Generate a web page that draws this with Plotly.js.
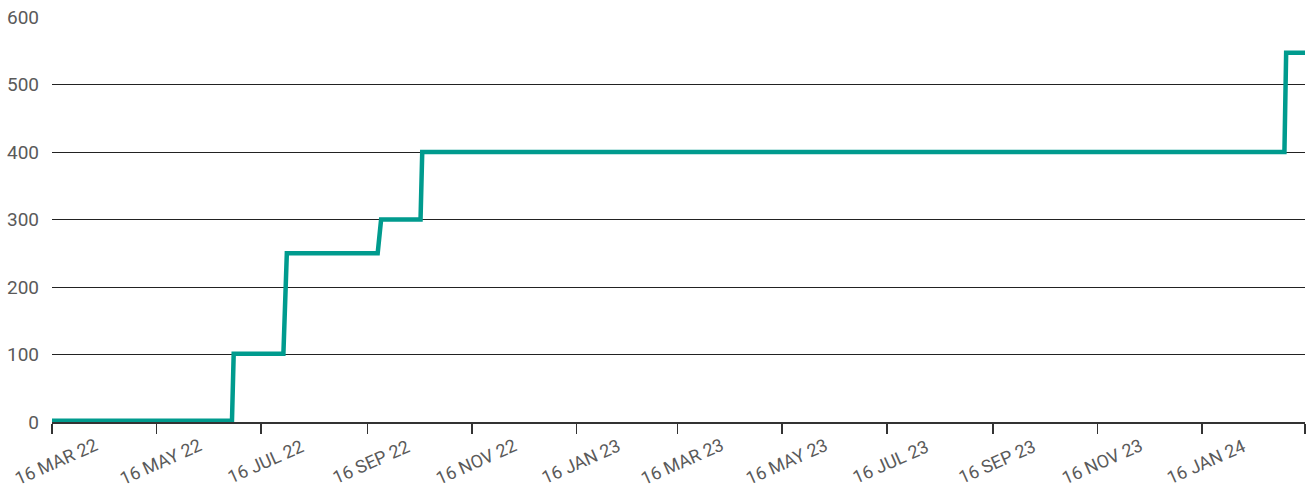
<!DOCTYPE html>
<html>
<head>
<meta charset="utf-8">
<script src="https://cdn.plot.ly/plotly-3.0.1.min.js"></script>
<style>html,body{margin:0;padding:0;background:#fff;}#chart{width:1309px;height:491px;}</style>
</head>
<body>
<div id="chart"></div>
<script>
// Series: dates and values
const dates = ['2022-03-16','2022-06-29','2022-06-30','2022-07-29','2022-07-31','2022-09-22','2022-09-24','2022-10-17','2022-10-18','2024-03-04','2024-03-05','2024-03-16'];
const values = [2,2,101,101,250,250,300,300,400,400,547,547];

// X tick dates and labels
const tickDates = ['2022-03-16','2022-05-16','2022-07-16','2022-09-16','2022-11-16','2023-01-16','2023-03-16','2023-05-16','2023-07-16','2023-09-16','2023-11-16','2024-01-16','2024-03-16'];
const tickLabels = ['16 MAR 22','16 MAY 22','16 JUL 22','16 SEP 22','16 NOV 22','16 JAN 23','16 MAR 23','16 MAY 23','16 JUL 23','16 SEP 23','16 NOV 23','16 JAN 24',''];

// Y ticks
const yTicks = [0,100,200,300,400,500,600];

const yFont = {family: 'Roboto, "Noto Sans", sans-serif', size: 19, color: '#5a5a5a'};
const xFont = {family: 'Roboto, "Noto Sans", sans-serif', size: 18, color: '#5a5a5a'};

const annotations = tickDates.map((d, i) => ({
  x: d, xref: 'x', y: -0.097, yref: 'paper',
  text: tickLabels[i], showarrow: false, textangle: -24,
  xanchor: 'center', yanchor: 'middle', xshift: 4,
  font: xFont
})).filter(a => a.text);

const trace = {
  x: dates, y: values, type: 'scatter', mode: 'lines',
  line: {color: '#009b8e', width: 4.5, shape: 'linear'},
  hoverinfo: 'skip'
};

const layout = {
  width: 1309, height: 491,
  margin: {l: 52, r: 4, t: 17, b: 69},
  paper_bgcolor: '#ffffff', plot_bgcolor: '#ffffff',
  showlegend: false,
  xaxis: {
    type: 'date',
    range: ['2022-03-16', '2024-03-16'],
    tickvals: tickDates,
    showticklabels: false,
    ticks: 'outside', ticklen: 10, tickwidth: 1.5, tickcolor: '#333333',
    showgrid: false, zeroline: false,
    showline: true, linecolor: '#333333', linewidth: 1.5
  },
  yaxis: {
    range: [0, 600],
    tickvals: yTicks,
    ticktext: yTicks.map(String),
    ticks: '', ticklabelstandoff: 12,
    showgrid: true, gridcolor: '#222222', gridwidth: 1,
    zeroline: false, showline: false,
    tickfont: yFont
  },
  annotations: annotations
};

Plotly.newPlot('chart', [trace], layout, {displayModeBar: false, staticPlot: true});
</script>
</body>
</html>
